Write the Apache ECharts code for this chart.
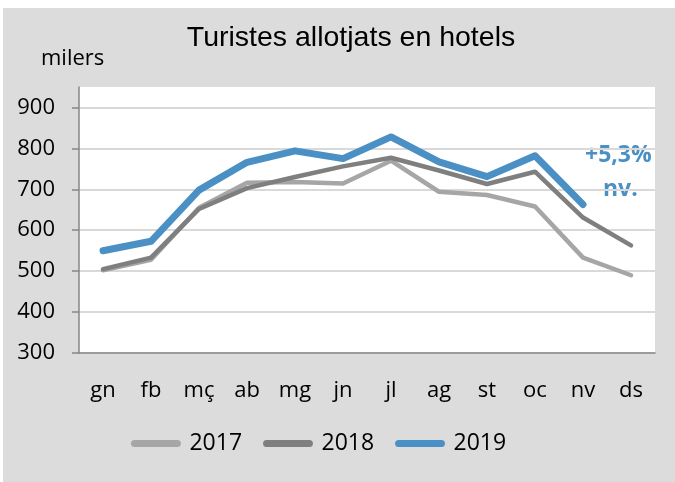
<!DOCTYPE html>
<html>
<head>
<meta charset="utf-8">
<script src="https://cdn.jsdelivr.net/npm/echarts@6/dist/echarts.min.js"></script>
<style>
  html, body { margin: 0; padding: 0; background: #fff; }
  #chart { position: absolute; left: 3px; top: 8px; width: 672px; height: 474px; }
</style>
</head>
<body>
<div id="chart"></div>
<script>
const months = ['gn', 'fb', 'mç', 'ab', 'mg', 'jn', 'jl', 'ag', 'st', 'oc', 'nv', 'ds']
const yTicks = [300, 400, 500, 600, 700, 800, 900]

const tourists2017 = [502, 528, 655, 716, 718, 714, 770, 694, 686, 658, 533, 490]
const tourists2018 = [505, 533, 652, 703, 730, 756, 777, 746, 713, 743, 631, 563]
const tourists2019 = [550, 573, 698, 766, 794, 775, 828, 767, 731, 782, 663, null]

// rounded bar used as legend icon
const pillIcon = 'path://M4,0 H53 A4,4 0 0 1 53,8 H4 A4,4 0 0 1 4,0 Z'

const chart = echarts.init(document.getElementById('chart'))

function lineSeries(name, data, color, width, z) {
  return {
    name: name,
    type: 'line',
    data: data,
    symbol: 'none',
    z: z,
    lineStyle: { color: color, width: width, cap: 'round', join: 'round' },
    itemStyle: { color: color },
    emphasis: { disabled: true },
  }
}

chart.setOption({
  backgroundColor: '#dcdcdc',
  animation: false,
  title: [
    {
      text: 'Turistes allotjats en hotels',
      left: 343,
      top: 11,
      textAlign: 'center',
      textStyle: { fontFamily: 'Liberation Sans', fontWeight: 'normal', fontSize: 28.5, color: '#000' },
    },
    {
      text: 'milers',
      left: 33,
      top: 35,
      textStyle: { fontFamily: 'Open Sans', fontWeight: 'normal', fontSize: 22, color: '#000' },
    },
  ],
  legend: {
    top: 419,
    left: 123,
    itemWidth: 57,
    itemHeight: 7,
    itemGap: 21,
    icon: pillIcon,
    textStyle: { fontFamily: 'Open Sans', fontSize: 23, color: '#000' },
  },
  grid: {
    left: 76,
    right: 20,
    top: 79,
    bottom: 129,
    show: true,
    backgroundColor: '#fff',
    borderWidth: 0,
  },
  xAxis: {
    type: 'category',
    data: months,
    boundaryGap: true,
    axisLine: { lineStyle: { color: '#868686', width: 1.5 } },
    axisTick: { length: 7, lineStyle: { color: '#868686', width: 1.5 } },
    axisLabel: { fontFamily: 'Open Sans', fontSize: 22, color: '#000', margin: 27 },
  },
  yAxis: {
    type: 'value',
    min: 300,
    max: 950,
    interval: 100,
    axisLine: { show: true, lineStyle: { color: '#868686', width: 1.5 } },
    axisTick: { show: true, length: 7, customValues: yTicks, lineStyle: { color: '#868686', width: 1.5 } },
    axisLabel: { customValues: yTicks, fontFamily: 'Open Sans', fontSize: 22, color: '#000', margin: 24 },
    splitLine: { lineStyle: { color: '#d9d9d9', width: 2 } },
  },
  graphic: [
    {
      type: 'text',
      left: 582,
      top: 136,
      style: { text: '+5,3%', fontFamily: 'Open Sans', fontWeight: 'bold', fontSize: 23, fill: '#4a90c4' },
    },
    {
      type: 'text',
      left: 600,
      top: 170,
      style: { text: 'nv.', fontFamily: 'Open Sans', fontWeight: 'bold', fontSize: 23, fill: '#4a90c4' },
    },
  ],
  series: [
    lineSeries('2017', tourists2017, '#a6a6a6', 4.5, 2),
    lineSeries('2018', tourists2018, '#7f7f7f', 4.5, 3),
    lineSeries('2019', tourists2019, '#4a90c4', 7, 4),
  ],
})
</script>
</body>
</html>
